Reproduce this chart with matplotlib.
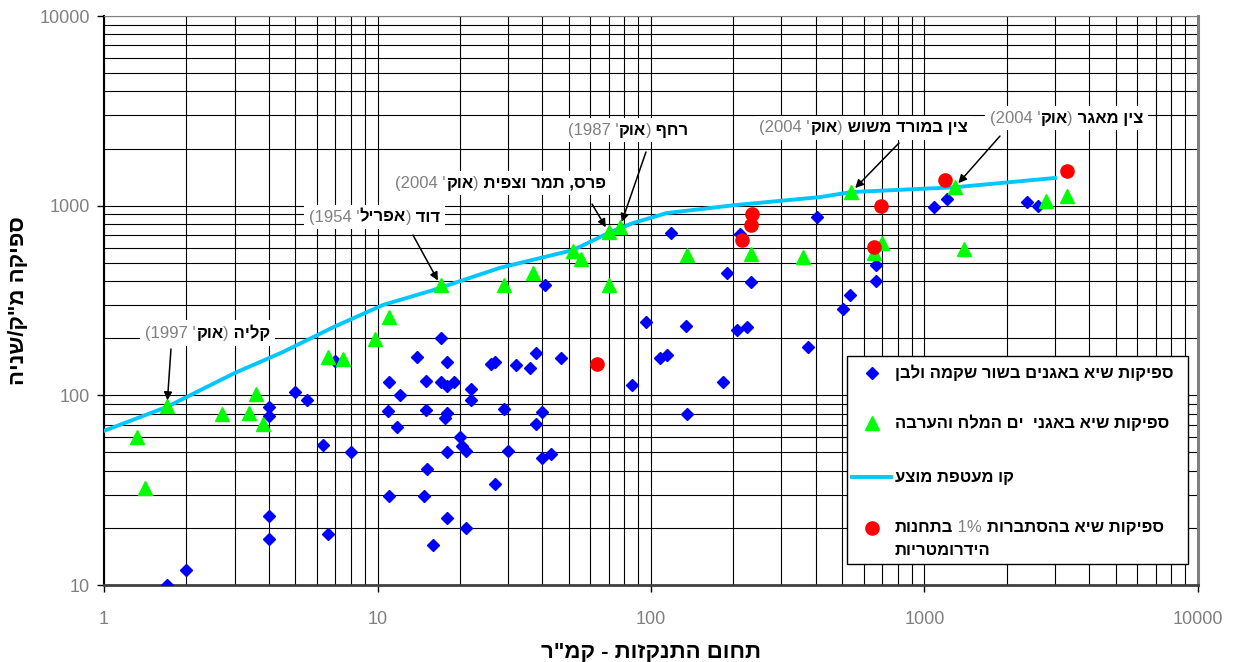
import numpy as np
import matplotlib
matplotlib.use('Agg')
import matplotlib.pyplot as plt
from matplotlib.ticker import FixedLocator, NullFormatter, LogLocator
from matplotlib.offsetbox import TextArea, HPacker, AnnotationBbox
from matplotlib.patches import Rectangle

plt.rcParams['font.family'] = ['Liberation Sans', 'DejaVu Sans']


def vis(s):
    # no bidi in matplotlib -> write hebrew in visual order
    return s[::-1]


# peak flows, Besor / Shikma / Lavan basins
blue_x = [1.7, 2, 4, 4, 4, 4, 5, 5.5, 6.3, 6.6, 7, 8, 11, 10.9, 11.8, 11, 12.1,
          14, 15, 15, 15.2, 14.8, 16, 17, 17, 18, 18, 19, 18, 17.7, 18, 18,
          20, 20.3, 21, 21, 22, 22, 26, 27, 27, 29, 30, 32, 36, 38, 38, 40, 40,
          41, 43, 47, 85, 96, 108, 114, 118, 134, 135, 183, 190, 206, 211, 225,
          232, 375, 405, 505, 535, 665, 665, 1080, 1210, 2370, 2600]
blue_y = [10, 12, 23, 17.5, 87, 78, 104, 94, 55, 18.6, 152, 50, 118, 83, 68, 29.5, 100,
          160, 119, 84, 41, 29.5, 16.3, 200, 118, 150, 112, 118, 81, 76, 50, 22.5,
          60, 54, 51, 20, 108, 94, 146, 149, 34, 85, 51, 145, 140, 167, 71, 47, 82,
          380, 49, 157, 113, 243, 157, 163, 718, 232, 80, 117, 440, 220, 710, 230,
          395, 180, 870, 285, 338, 485, 400, 985, 1085, 1045, 1000]

# peak flows, Dead Sea / Arava basins
green_x = [1.32, 1.41, 1.7, 2.7, 3.4, 3.6, 3.8, 6.6, 7.5, 9.8, 11, 17, 29, 37, 52,
           55.5, 70, 77, 70, 135, 232, 360, 540, 655, 700, 1290, 1395, 2780, 3320]
green_y = [60, 32.5, 88, 80, 81, 102, 71, 159, 155, 198, 259, 380, 380, 440, 576,
           522, 726, 770, 380, 550, 555, 536, 1180, 560, 635, 1250, 590, 1055, 1125]

# 1% probability peak flows at hydrometric stations
red_x = [63.5, 215, 232, 235, 655, 693, 1190, 3320]
red_y = [146, 660, 790, 905, 605, 1000, 1365, 1520]

# proposed envelope curve
env_x = [1, 1.7, 3, 4.5, 6.9, 10.5, 16, 28, 52, 71, 86, 114, 200, 415, 540, 1290, 3000]
env_y = [65, 87, 131, 169, 229, 300, 359, 470, 584, 726, 810, 914, 1005, 1110, 1180, 1250, 1400]

x_ticks = [1, 10, 100, 1000, 10000]
y_ticks = [10, 100, 1000, 10000]

legend_labels = ['ספיקות שיא באגנים בשור שקמה ולבן',
                 'ספיקות שיא באגני  ים המלח והערבה',
                 'קו מעטפת מוצע']

# (name, month, year, index of the green point)
events = [('קליה', 'אוק', "1997", 2),
          ('דוד', 'אפריל', "1954", 11),
          ('פרס, תמר וצפית', 'אוק', "2004", 16),
          ('רחף', 'אוק', "1987", 17),
          ('צין במורד משוש', 'אוק', "2004", 22),
          ('צין מאגר', 'אוק', "2004", 25)]
# label centre and arrow start, axes fraction
label_pos = [(0.0946, 0.4429), (0.2473, 0.6467), (0.3624, 0.7065),
             (0.4790, 0.7996), (0.6942, 0.8032), (0.8798, 0.8207)]
arrow_from = [(0.0612, 0.4148), (0.2824, 0.6151), (0.4461, 0.6696),
              (0.4954, 0.7610), (0.7267, 0.7768), (0.8190, 0.7890)]

GRAY = '#808080'
bold = dict(fontsize=12, fontweight='bold', color='black')
light = dict(fontsize=12, color=GRAY)

fig = plt.figure(figsize=(12.34, 6.62), dpi=100)
ax = fig.add_axes([0.0843, 0.1163, 0.8865, 0.8595])
ax.set_xscale('log')
ax.set_yscale('log')
ax.set_xlim(1, 10000)
ax.set_ylim(10, 10000)

ax.plot(env_x, env_y, color='#00C8FF', lw=2.8, zorder=3)
ax.plot(blue_x, blue_y, 'D', color='#0000FF', ms=6.5, ls='none', zorder=4)
ax.plot(green_x, green_y, '^', color='#00FF00', ms=10, ls='none', zorder=4)
ax.plot(red_x, red_y, 'o', color='#FF0000', ms=9.5, ls='none', zorder=4)

# axes / grid
for axis, ticks in ((ax.xaxis, x_ticks), (ax.yaxis, y_ticks)):
    axis.set_major_locator(FixedLocator(ticks))
    axis.set_minor_locator(LogLocator(base=10, subs=np.arange(2, 10)))
    axis.set_minor_formatter(NullFormatter())
ax.set_xticklabels([str(t) for t in x_ticks])
ax.set_yticklabels([str(t) for t in y_ticks])
ax.tick_params(which='minor', length=0)
ax.tick_params(which='major', length=5, width=1, direction='out',
               labelcolor=GRAY, labelsize=13)
ax.tick_params(axis='x', pad=14)
ax.tick_params(axis='y', pad=5)
ax.grid(which='both', color='black', lw=0.8)
ax.set_axisbelow(True)

for s in ('top', 'right'):
    ax.spines[s].set_color(GRAY)
ax.spines['right'].set_linewidth(2.2)
ax.spines['bottom'].set_color('#404040')
ax.spines['bottom'].set_linewidth(2)
ax.spines['left'].set_linewidth(1.5)

ax.set_xlabel(vis('תחום התנקזות - קמ"ר'), fontsize=16, fontweight='bold', labelpad=10)
ax.set_ylabel(vis('ספיקה מ"ק/שניה'), fontsize=16, fontweight='bold', labelpad=8)

# labelled events
for (name, month, year, gi), (lx, ly), (ax0, ay0) in zip(events, label_pos, arrow_from):
    parts = [TextArea('(' + year + " '", textprops=light),
             TextArea(vis(month), textprops=bold),
             TextArea(')', textprops=light),
             TextArea(' ' + vis(name), textprops=bold)]
    box = HPacker(children=parts, align='baseline', pad=0, sep=0)
    ab = AnnotationBbox(box, (lx, ly), xycoords='axes fraction', frameon=True,
                        pad=0.35, bboxprops=dict(facecolor='white', edgecolor='none'),
                        zorder=6)
    ax.add_artist(ab)
    ax.annotate('', xy=(green_x[gi], green_y[gi]), xycoords='data',
                xytext=(ax0, ay0), textcoords='axes fraction',
                arrowprops=dict(arrowstyle='-|>', color='black', lw=1.1,
                                mutation_scale=12, shrinkA=0, shrinkB=4),
                zorder=6)

# legend drawn by hand (mixed colours in last entry)
ax.add_patch(Rectangle((0.6792, 0.0369), 0.3117, 0.3656, transform=ax.transAxes,
                       facecolor='white', edgecolor='black', lw=1, zorder=7))
mk_x, txt_x = 0.702, 0.723
rows_y = [0.3726, 0.2847, 0.1898, 0.1002, 0.0615]
ax.plot([mk_x], [rows_y[0]], 'D', color='#0000FF', ms=6.5, transform=ax.transAxes,
        clip_on=False, zorder=8)
ax.plot([mk_x], [rows_y[1]], '^', color='#00FF00', ms=10, transform=ax.transAxes,
        clip_on=False, zorder=8)
ax.plot([0.6837, 0.7194], [rows_y[2]] * 2, color='#00C8FF', lw=2.8,
        transform=ax.transAxes, clip_on=False, zorder=8)
ax.plot([mk_x], [rows_y[3]], 'o', color='#FF0000', ms=9.5, transform=ax.transAxes,
        clip_on=False, zorder=8)
for lab, yy in zip(legend_labels, rows_y[:3]):
    ax.text(txt_x, yy, vis(lab), transform=ax.transAxes, ha='left', va='center',
            zorder=8, **bold)

row4 = HPacker(children=[TextArea(vis('בתחנות'), textprops=bold),
                         TextArea(' 1% ', textprops=light),
                         TextArea(vis('ספיקות שיא בהסתברות'), textprops=bold)],
               align='baseline', pad=0, sep=0)
ax.add_artist(AnnotationBbox(row4, (txt_x, rows_y[3]), xycoords='axes fraction',
                             box_alignment=(0, 0.5), frameon=False, pad=0, zorder=8))
ax.text(txt_x, rows_y[4], vis('הידרומטריות'), transform=ax.transAxes, ha='left',
        va='center', zorder=8, **bold)

fig.savefig('out.png', dpi=100)
